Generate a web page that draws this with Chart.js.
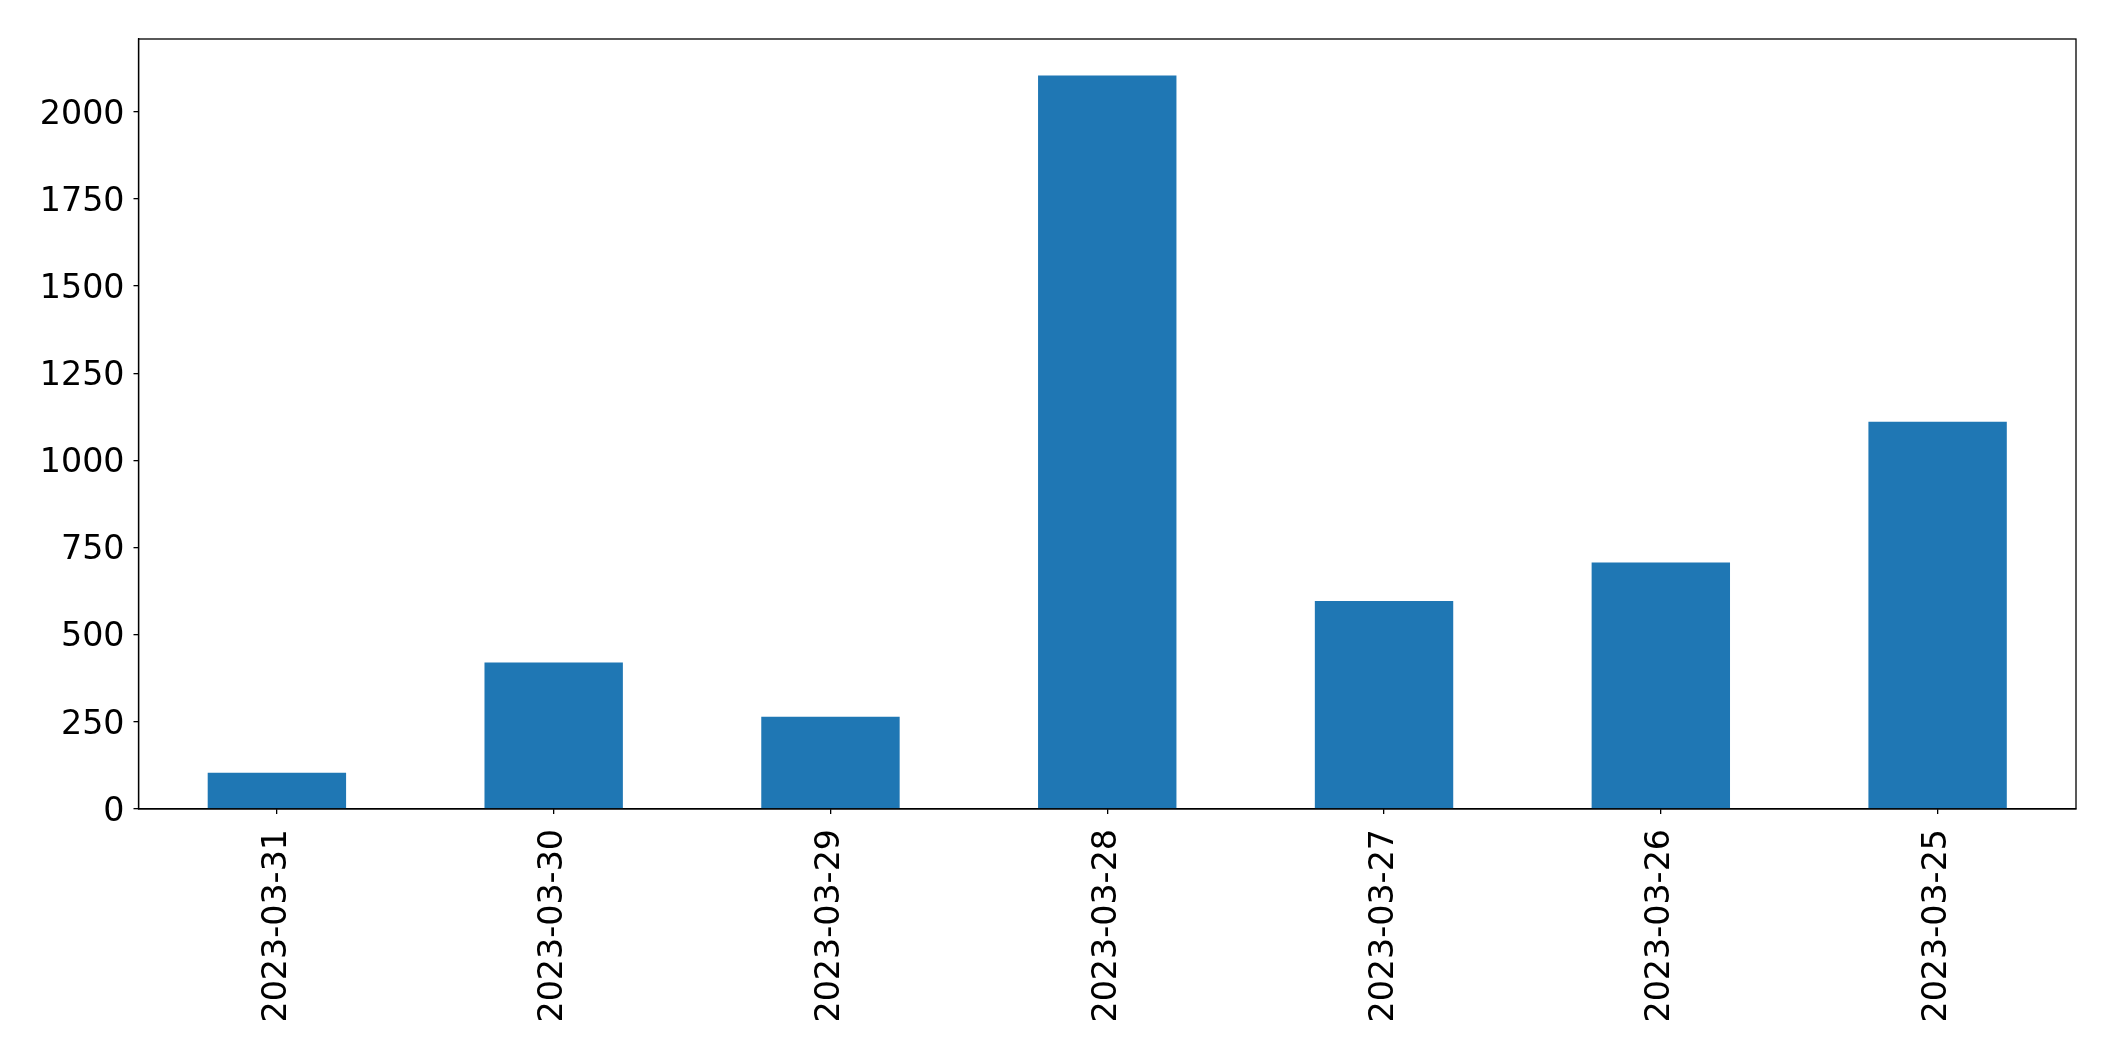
<!DOCTYPE html>
<html>
<head>
<meta charset="utf-8">
<script src="https://cdn.jsdelivr.net/npm/chart.js@4.4.0/dist/chart.umd.min.js"></script>
<style>
  html, body { margin: 0; padding: 0; background: #fff; }
  #wrap { width: 2115px; height: 1061px; }
</style>
</head>
<body>
<div id="wrap"><canvas id="chart" width="2115" height="1061"></canvas></div>
<script>
const dates = ['2023-03-31', '2023-03-30', '2023-03-29', '2023-03-28', '2023-03-27', '2023-03-26', '2023-03-25'];
const counts = [104, 420, 265, 2104, 597, 707, 1111];
const yTicks = [0, 250, 500, 750, 1000, 1250, 1500, 1750, 2000];
const yMax = 2209;

// marco completo alrededor del área del gráfico
const frame = {
  id: 'frame',
  afterDraw(chart) {
    const a = chart.chartArea;
    const ctx = chart.ctx;
    ctx.save();
    ctx.strokeStyle = '#000';
    ctx.lineWidth = 1.3;
    ctx.strokeRect(a.left, a.top, a.right - a.left, a.bottom - a.top);
    ctx.restore();
  }
};

Chart.defaults.font.family = "'DejaVu Sans', sans-serif";
Chart.defaults.font.size = 33.3;
Chart.defaults.color = '#000';

new Chart(document.getElementById('chart'), {
  type: 'bar',
  data: {
    labels: dates,
    datasets: [{
      data: counts,
      backgroundColor: '#1f77b4',
      barPercentage: 0.5,
      categoryPercentage: 1.0
    }]
  },
  options: {
    responsive: false,
    animation: false,
    layout: { padding: { top: 39, right: 39, left: 0, bottom: 0 } },
    plugins: { legend: { display: false }, tooltip: { enabled: false } },
    scales: {
      x: {
        grid: { display: true, offset: false, drawOnChartArea: false, drawTicks: true, tickLength: 5, color: '#000', lineWidth: 1.3 },
        border: { display: true, color: '#000', width: 1.3 },
        ticks: { minRotation: 90, maxRotation: 90, padding: 15, autoSkip: false },
        afterFit(scale) { scale.height = 252; }
      },
      y: {
        min: 0,
        max: yMax,
        grid: { display: true, drawOnChartArea: false, drawTicks: true, tickLength: 5, color: '#000', lineWidth: 1.3 },
        border: { display: true, color: '#000', width: 1.3 },
        ticks: { padding: 9, labelOffset: 3, callback: v => String(v) },
        afterBuildTicks(scale) { scale.ticks = yTicks.map(v => ({ value: v })); },
        afterFit(scale) { scale.width = 138.5; }
      }
    }
  },
  plugins: [frame]
});
</script>
</body>
</html>
